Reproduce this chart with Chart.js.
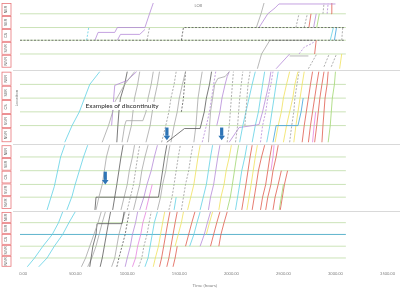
<!DOCTYPE html>
<html>
<head>
<meta charset="utf-8">
<script src="https://cdn.jsdelivr.net/npm/chart.js@4.4.1/dist/chart.umd.min.js"></script>
<style>
html, body { margin: 0; padding: 0; background: #fff; }
#wrap { width: 400px; height: 289px; }
</style>
</head>
<body>
<div id="wrap"><canvas id="chart"></canvas></div>
<script>
// x 轴刻度 (hours)
var xTickValues = [0, 500, 1000, 1500, 2000, 2500, 3000, 3500];
// 各区段标签 (每组5个, 自上而下)
var sectionLabels = ['NER', 'SER', 'CS', 'SWR', 'NWR'];
// 每组的位置范围 (location, 上 -> 下)
var groupEdges = [[3, 69], [73, 145], [148, 213], [216, 272]];
var groupSeparators = [71.5, 146.5, 215];
// 车站位置线
var stationLocs = [14, 28, 41, 55, 86, 100, 114, 128, 160, 174, 188, 201, 227, 239, 251, 263];
var highlightedStation = 239;
var rowSpan = [-30, 3100];
// 蓝色箭头: [time, locTop, locBottom]
var arrows = [[1381, 130, 143], [1907, 130, 143], [789, 175, 188]];
var noteText = 'Examples of discontinuity';
var notePos = [600, 108];
var lobPos = [1683, 6];

// 运行线: [类别, [[time, location], ...]]
var g1Trains = [
    ['kd', [[-30, 41], [3080, 41]]],
    ['kd', [[1520, 41], [1540, 28], [3080, 28]]],
    ['cd', [[610, 41], [630, 28]]],
    ['p', [[690, 41], [720, 33], [880, 33], [905, 28], [1170, 28], [1214, 14], [1250, 3]]],
    ['p', [[905, 41], [935, 35], [1120, 35], [1170, 30]]],
    ['gd', [[1190, 41], [1214, 28]]],
    ['g', [[2240, 28], [2285, 14], [2314, 3]]],
    ['g', [[2250, 70], [2290, 55], [2370, 41], [2780, 41]]],
    ['p', [[2266, 28], [2350, 14], [2420, 8], [2457, 4], [3000, 4]]],
    ['gd', [[2620, 28], [2650, 14]]],
    ['gd', [[2700, 28], [2730, 14]]],
    ['r', [[2745, 28], [2765, 14]]],
    ['p', [[2790, 28], [2815, 14]]],
    ['l', [[2820, 28], [2845, 14]]],
    ['gd', [[2880, 14], [2890, 3]]],
    ['pd', [[2920, 14], [2930, 3]]],
    ['r', [[2960, 14], [2965, 3]]],
    ['c', [[2950, 41], [2980, 28]]],
    ['b', [[2990, 41], [3010, 28]]],
    ['gd', [[3060, 41], [3070, 28]]],
    ['r', [[2800, 55], [2815, 41]]],
    ['pd', [[2650, 55], [2700, 48], [2780, 44], [2800, 41]]],
    ['p', [[2430, 70], [2560, 55]]],
    ['g', [[2560, 57], [2740, 57]]],
    ['gd', [[2740, 70], [2820, 55]]],
    ['gd', [[2890, 68], [2940, 55]]],
    ['gd', [[2960, 68], [3010, 55]]],
    ['y', [[3040, 70], [3060, 55]]]
];

var g2Trains = [
    ['c', [[400, 145], [470, 128], [540, 114], [590, 100], [640, 86], [736, 73]]],
    ['g', [[760, 145], [820, 128], [860, 114], [880, 104], [975, 86], [1071, 73]]],
    ['p', [[850, 128], [870, 100], [880, 87], [1000, 82], [1090, 73]]],
    ['k', [[900, 145], [910, 128], [920, 114], [935, 100], [975, 86], [1000, 73]]],
    ['g', [[950, 145], [975, 128], [990, 123], [1150, 123], [1180, 114], [1200, 100], [1230, 86], [1250, 73]]],
    ['g', [[1000, 145], [1040, 128], [1055, 114], [1070, 100], [1100, 86], [1120, 73]]],
    ['g', [[1180, 145], [1220, 128], [1240, 114], [1262, 100], [1290, 86], [1310, 73]]],
    ['gd', [[1330, 145], [1370, 128], [1400, 114], [1420, 100], [1450, 86], [1470, 73]]],
    ['k', [[1380, 145], [1550, 131], [1700, 131], [1740, 114], [1760, 100], [1790, 86], [1810, 73]]],
    ['g', [[1420, 145], [1450, 128], [1480, 114], [1500, 100], [1530, 86], [1560, 73]]],
    ['kd', [[1520, 114], [1540, 100], [1550, 86], [1560, 73]]],
    ['g', [[1640, 145], [1660, 128], [1670, 114], [1680, 100], [1700, 86], [1720, 73]]],
    ['pd', [[1720, 145], [1760, 128], [1790, 114], [1810, 100], [1830, 86], [1850, 73]]],
    ['g', [[1780, 145], [1800, 114], [1820, 100], [1840, 86], [1870, 80], [1940, 78], [1980, 73]]],
    ['p', [[1860, 128], [1890, 114], [1910, 100], [1940, 86], [1960, 78], [1980, 73]]],
    ['gd', [[1960, 145], [1980, 128], [1990, 114], [2000, 100], [2010, 86], [2020, 73]]],
    ['gd', [[2040, 145], [2060, 128], [2070, 114], [2080, 100], [2095, 86], [2110, 73]]],
    ['gd', [[2130, 128], [2140, 114], [2150, 100], [2160, 86], [2180, 73]]],
    ['c', [[2080, 145], [2110, 128], [2140, 114], [2170, 100], [2200, 86], [2230, 73]]],
    ['p', [[1979, 145], [2075, 130], [2266, 127], [2300, 114], [2330, 100], [2360, 86], [2380, 73]]],
    ['c', [[2200, 145], [2230, 128], [2260, 114], [2280, 100], [2300, 86], [2320, 73]]],
    ['pd', [[2280, 145], [2300, 128], [2330, 114], [2350, 100], [2380, 86], [2400, 73]]],
    ['c', [[2340, 145], [2370, 128], [2390, 114], [2410, 100], [2430, 86], [2450, 73]]],
    ['b', [[2400, 145], [2430, 128], [2640, 128], [2670, 114], [2690, 100]]],
    ['y', [[2420, 145], [2450, 128], [2480, 114], [2500, 100], [2530, 86], [2560, 73]]],
    ['y', [[2500, 145], [2530, 128], [2560, 114], [2590, 100], [2610, 86], [2640, 73]]],
    ['gd', [[2560, 145], [2580, 128], [2600, 114], [2610, 100], [2630, 86], [2650, 73]]],
    ['y', [[2600, 145], [2620, 128], [2640, 114], [2660, 100], [2680, 86], [2700, 73]]],
    ['r', [[2680, 145], [2700, 128], [2720, 114], [2740, 100], [2760, 86], [2780, 73]]],
    ['r', [[2740, 145], [2760, 128], [2780, 114], [2800, 100], [2820, 86], [2840, 73]]],
    ['m', [[2780, 145], [2795, 128], [2810, 114]]],
    ['r', [[2800, 145], [2820, 128], [2835, 114], [2850, 100], [2870, 86], [2890, 73]]],
    ['r', [[2870, 145], [2880, 128], [2890, 114], [2900, 100], [2920, 86], [2930, 73]]],
    ['l', [[2930, 145], [2950, 128], [2960, 114], [2970, 100], [2990, 86], [3000, 73]]]
];

var g3Trains = [
    ['c', [[230, 214], [300, 190], [360, 160], [400, 148]]],
    ['c', [[420, 214], [470, 200], [500, 188], [540, 174], [580, 160], [620, 148]]],
    ['g', [[700, 214], [730, 200], [760, 188], [780, 174], [800, 160], [830, 148]]],
    ['k', [[690, 214], [700, 201], [1300, 201], [1320, 188], [1340, 174], [1360, 160], [1380, 148]]],
    ['k', [[860, 214], [880, 201], [900, 188], [920, 174], [940, 160], [960, 148]]],
    ['g', [[940, 214], [970, 201], [1000, 188], [1020, 174], [1050, 160], [1070, 148]]],
    ['gd', [[1000, 214], [1030, 201], [1060, 188], [1080, 174], [1100, 160], [1120, 148]]],
    ['g', [[1060, 214], [1090, 201], [1120, 188], [1140, 174], [1170, 160], [1200, 148]]],
    ['p', [[1120, 214], [1160, 201], [1190, 188], [1230, 174], [1260, 160], [1290, 148]]],
    ['m', [[1180, 214], [1210, 201], [1240, 188]]],
    ['g', [[1290, 214], [1320, 201], [1340, 188], [1370, 174], [1390, 160], [1410, 148]]],
    ['gd', [[1400, 214], [1430, 201], [1450, 188], [1470, 174], [1490, 160], [1510, 148]]],
    ['gd', [[1520, 214], [1540, 201], [1560, 188], [1590, 174], [1610, 160], [1630, 148]]],
    ['c', [[1450, 214], [1470, 201]]],
    ['y', [[1580, 214], [1610, 201], [1640, 188], [1660, 174], [1680, 160], [1700, 148]]],
    ['c', [[1700, 214], [1730, 201], [1760, 188], [1780, 174], [1800, 160], [1820, 148]]],
    ['p', [[1780, 214], [1800, 201], [1830, 188], [1850, 174], [1870, 160], [1890, 148]]],
    ['y', [[1880, 214], [1900, 201], [1930, 188], [1950, 174], [1980, 160], [2000, 148]]],
    ['l', [[1960, 214], [1990, 201], [2010, 188], [2030, 174], [2050, 160], [2070, 148]]],
    ['c', [[2040, 214], [2060, 201], [2080, 188], [2100, 174], [2130, 160], [2150, 148]]],
    ['r', [[2100, 214], [2120, 201], [2140, 188], [2160, 174], [2180, 160], [2200, 148]]],
    ['y', [[2150, 214], [2170, 201], [2190, 188], [2210, 174], [2230, 160], [2250, 148]]],
    ['r', [[2200, 214], [2220, 201], [2240, 188], [2260, 174], [2290, 160], [2320, 148]]],
    ['r', [[2280, 214], [2300, 201], [2330, 188], [2350, 174], [2370, 160], [2390, 148]]],
    ['m', [[2380, 174], [2400, 160], [2410, 148]]],
    ['r', [[2330, 214], [2350, 201], [2380, 188], [2400, 174], [2430, 160], [2450, 148]]],
    ['r', [[2400, 214], [2420, 201], [2450, 188], [2480, 174]]],
    ['l', [[2460, 214], [2480, 201], [2500, 188]]],
    ['r', [[2470, 214], [2490, 201], [2510, 188], [2540, 174]]]
];

var g4Trains = [
    ['c', [[40, 272], [110, 263], [190, 251], [280, 239], [340, 227], [380, 216]]],
    ['c', [[150, 272], [230, 263], [300, 251], [380, 239], [440, 227], [500, 216]]],
    ['g', [[560, 272], [600, 263], [640, 251], [680, 239], [720, 227], [750, 216]]],
    ['k', [[640, 272], [670, 251], [700, 239], [710, 228], [950, 228], [970, 216]]],
    ['g', [[620, 272], [660, 263], [700, 251], [730, 239], [760, 227], [790, 216]]],
    ['k', [[740, 272], [760, 263], [780, 251], [800, 239], [820, 227], [840, 216]]],
    ['g', [[850, 272], [880, 263], [900, 251], [920, 239], [950, 227], [980, 216]]],
    ['kd', [[900, 272], [920, 263], [950, 251], [980, 239], [1000, 227], [1020, 216]]],
    ['p', [[980, 272], [1000, 263], [1030, 251], [1050, 239], [1080, 227], [1100, 216]]],
    ['m', [[1050, 272], [1080, 263], [1100, 251], [1130, 239], [1150, 227], [1180, 216]]],
    ['gd', [[1110, 272], [1140, 263], [1160, 251], [1190, 239], [1210, 227], [1230, 216]]],
    ['c', [[1170, 272], [1200, 263], [1220, 251], [1240, 239], [1260, 227], [1290, 216]]],
    ['y', [[1250, 272], [1270, 263], [1300, 251], [1320, 239], [1340, 227], [1360, 216]]],
    ['r', [[1310, 272], [1330, 263], [1350, 251], [1370, 239], [1390, 227], [1410, 216]]],
    ['r', [[1380, 272], [1400, 263], [1420, 251], [1440, 239], [1460, 227], [1480, 216]]],
    ['r', [[1440, 272], [1460, 263], [1480, 251]]],
    ['y', [[1460, 251], [1490, 239], [1520, 227], [1540, 216]]],
    ['r', [[1560, 251], [1590, 239], [1620, 227], [1650, 216]]],
    ['c', [[1600, 251], [1640, 239], [1670, 227], [1700, 216]]],
    ['p', [[1700, 251], [1740, 239], [1770, 227], [1800, 216]]],
    ['y', [[1760, 239], [1790, 227], [1820, 216]]],
    ['r', [[1800, 251], [1830, 239], [1860, 227], [1890, 216]]],
    ['r', [[1880, 251], [1900, 239], [1930, 227], [1960, 216]]]
];

// 样式
var trainStyles = {
    c:  { color: '#5fd0e4' },
    cd: { color: '#5fd0e4', dash: [2, 1.5] },
    b:  { color: '#3fa2dc' },
    g:  { color: '#a6a6a6' },
    gd: { color: '#9a9a9a', dash: [2, 1.5] },
    k:  { color: '#595959' },
    kd: { color: '#595959', dash: [2, 1.5] },
    l:  { color: '#9fd66e' },
    p:  { color: '#b58ad8' },
    pd: { color: '#b58ad8', dash: [2, 1.5] },
    y:  { color: '#f0e15a' },
    m:  { color: '#e583de' },
    r:  { color: '#e05a4c' }
};

var datasets = [];
stationLocs.forEach(function (loc) {
    datasets.push({
        data: [{ x: rowSpan[0], y: loc }, { x: rowSpan[1], y: loc }],
        borderColor: loc === highlightedStation ? '#4bacc6' : '#c5e0b0',
        borderWidth: 0.9,
        pointRadius: 0,
        order: 10,
        clip: false
    });
});
g1Trains.concat(g2Trains, g3Trains, g4Trains).forEach(function (tr) {
    var st = trainStyles[tr[0]];
    datasets.push({
        data: tr[1].map(function (p) { return { x: p[0], y: p[1] }; }),
        borderColor: st.color,
        borderDash: st.dash || [],
        borderWidth: 0.8,
        pointRadius: 0,
        tension: 0,
        clip: false
    });
});

var extras = {
    id: 'extras',
    beforeDatasetsDraw: function (chart) {
        var ctx = chart.ctx, y = chart.scales.y;
        ctx.save();
        ctx.strokeStyle = '#d9d9d9';
        ctx.lineWidth = 1;
        groupSeparators.forEach(function (v) {
            var py = Math.round(y.getPixelForValue(v)) + 0.5;
            ctx.beginPath();
            ctx.moveTo(13, py);
            ctx.lineTo(chart.width, py);
            ctx.stroke();
        });
        ctx.restore();
    },
    afterDatasetsDraw: function (chart) {
        var ctx = chart.ctx, x = chart.scales.x, y = chart.scales.y;
        ctx.save();
        // 左侧区段标签框
        groupEdges.forEach(function (g) {
            var top = y.getPixelForValue(g[0]);
            var bot = y.getPixelForValue(g[1]);
            var h = (bot - top) / sectionLabels.length;
            sectionLabels.forEach(function (lab, i) {
                var by = top + i * h;
                ctx.fillStyle = '#ffffff';
                ctx.fillRect(2, by + 0.5, 9, h - 1);
                ctx.strokeStyle = '#e8777a';
                ctx.lineWidth = 0.8;
                ctx.strokeRect(2, by + 0.5, 9, h - 1);
                ctx.save();
                ctx.translate(6.5, by + h / 2);
                ctx.rotate(-Math.PI / 2);
                ctx.fillStyle = '#555555';
                ctx.font = '3.5px "Liberation Sans"';
                ctx.textAlign = 'center';
                ctx.textBaseline = 'middle';
                ctx.fillText(lab, 0, 0);
                ctx.restore();
            });
        });
        // Location
        ctx.save();
        ctx.translate(17, y.getPixelForValue(100));
        ctx.rotate(-Math.PI / 2);
        ctx.fillStyle = '#808080';
        ctx.font = '4.5px Lato';
        ctx.textAlign = 'center';
        ctx.textBaseline = 'middle';
        ctx.fillText('Location', 0, 0);
        ctx.restore();
        // LOB
        ctx.fillStyle = '#808080';
        ctx.font = '4px Lato';
        ctx.textAlign = 'center';
        ctx.textBaseline = 'middle';
        ctx.fillText('LOB', x.getPixelForValue(lobPos[0]), y.getPixelForValue(lobPos[1]));
        // 说明文字
        ctx.font = '6.5px Lato';
        ctx.textAlign = 'left';
        var tx = x.getPixelForValue(notePos[0]), ty = y.getPixelForValue(notePos[1]);
        var tw = ctx.measureText(noteText).width;
        ctx.fillStyle = '#ffffff';
        ctx.fillRect(tx - 1, ty - 4, tw + 2, 8);
        ctx.fillStyle = '#262626';
        ctx.fillText(noteText, tx, ty);
        // 箭头
        ctx.fillStyle = '#2e75b6';
        arrows.forEach(function (a) {
            var ax = x.getPixelForValue(a[0]);
            var y0 = y.getPixelForValue(a[1]);
            var y1 = y.getPixelForValue(a[2]);
            ctx.fillRect(ax - 1.6, y0, 3.2, y1 - y0 - 4.5);
            ctx.beginPath();
            ctx.moveTo(ax - 3.3, y1 - 4.5);
            ctx.lineTo(ax + 3.3, y1 - 4.5);
            ctx.lineTo(ax, y1);
            ctx.closePath();
            ctx.fill();
        });
        ctx.restore();
    }
};

new Chart(document.getElementById('chart'), {
    type: 'line',
    data: { datasets: datasets },
    plugins: [extras],
    options: {
        responsive: true,
        maintainAspectRatio: false,
        animation: false,
        layout: { padding: { left: 20, right: 9, top: 3, bottom: 1 } },
        plugins: { legend: { display: false }, tooltip: { enabled: false } },
        scales: {
            x: {
                type: 'linear',
                min: -30,
                max: 3520,
                afterBuildTicks: function (axis) {
                    axis.ticks = xTickValues.map(function (v) { return { value: v }; });
                },
                grid: { display: false, drawTicks: false },
                border: { display: false },
                ticks: {
                    autoSkip: false,
                    maxRotation: 0,
                    padding: 5,
                    color: '#808080',
                    font: { family: 'Lato', size: 4 },
                    callback: function (v) { return Number(v).toFixed(2); }
                },
                title: {
                    display: true,
                    text: 'Time (hours)',
                    color: '#7f7f7f',
                    font: { family: 'Lato', size: 4.5 },
                    padding: { top: 1, bottom: 0 }
                }
            },
            y: {
                type: 'linear',
                reverse: true,
                min: 3,
                max: 272,
                display: false
            }
        }
    }
});
</script>
</body>
</html>
